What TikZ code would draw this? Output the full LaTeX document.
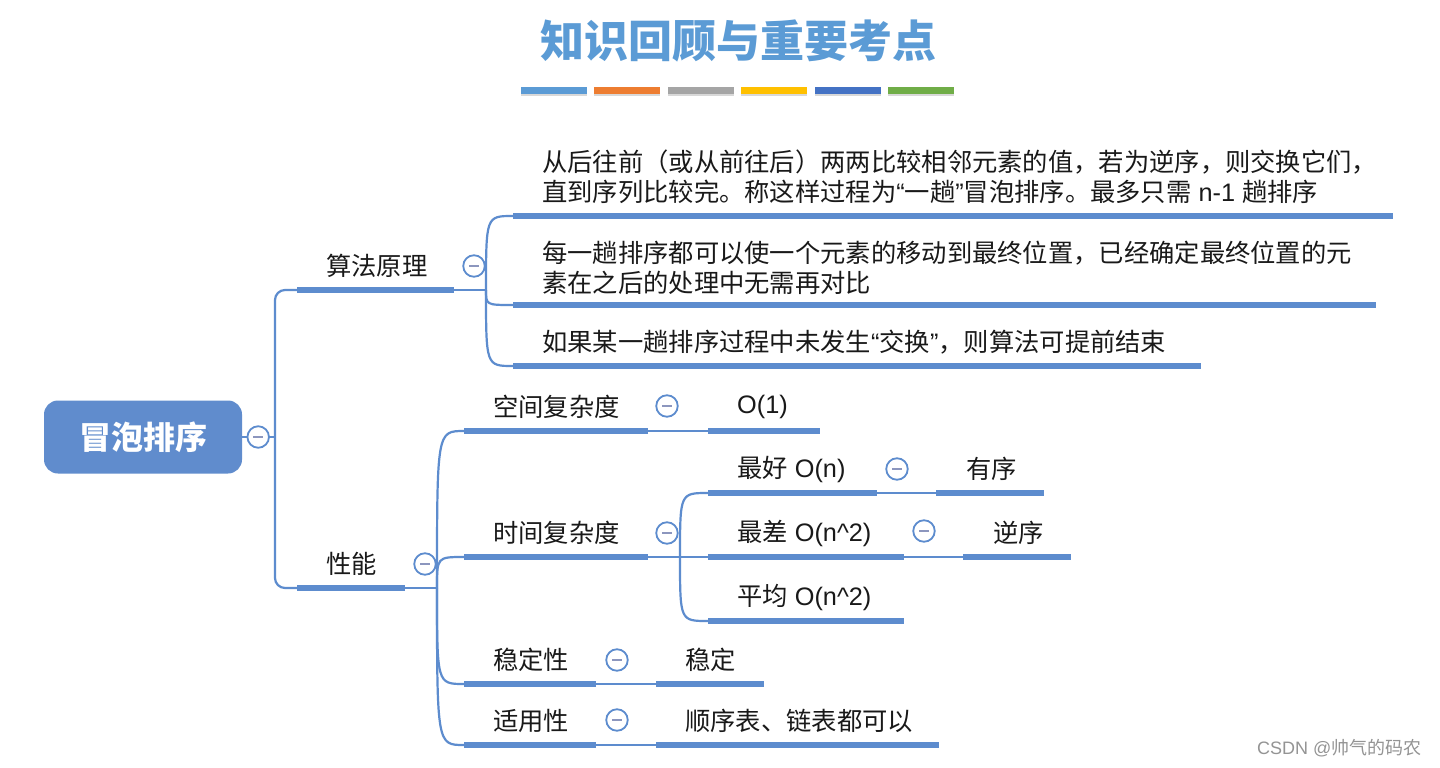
\documentclass[tikz,border=0pt]{standalone}
\usepackage{fontspec}
\setmainfont{Noto Sans CJK SC}
\newfontfamily\lat{Liberation Sans}
\usepackage{tikz}
\usetikzlibrary{positioning,shadows}
\definecolor{mblue}{RGB}{93,140,206}
\definecolor{rootblue}{RGB}{96,140,205}
\definecolor{tblue}{RGB}{91,155,213}
\definecolor{ink}{RGB}{25,25,25}
\definecolor{foldmark}{RGB}{140,150,190}
\definecolor{tb1}{RGB}{91,155,213}
\definecolor{tb2}{RGB}{237,125,49}
\definecolor{tb3}{RGB}{165,165,165}
\definecolor{tb4}{RGB}{255,192,0}
\definecolor{tb5}{RGB}{68,114,196}
\definecolor{tb6}{RGB}{112,173,71}
\begin{document}
\begin{tikzpicture}[
  x=1pt,y=-1pt,
  on grid,node distance=20pt,
  link/.style={draw=mblue,line width=2.2pt},
  bar/.style={draw=mblue,line width=6pt},
  topic/.style={anchor=west,inner sep=0pt,text=ink,align=left,
    font=\fontsize{25.3}{30}\selectfont},
  fold/.style={circle,draw=mblue,line width=1.8pt,fill=white,
    minimum size=21.5pt,inner sep=0pt,
    path picture={\draw[foldmark,line width=2pt]
      ([xshift=-5pt]path picture bounding box.center) --
      ([xshift=5pt]path picture bounding box.center);}},
  root/.style={rectangle,rounded corners=14pt,fill=rootblue,text=white,
    minimum width=198pt,minimum height=73pt,
    font=\fontsize{32}{32}\selectfont\bfseries},
  title/.style={text=tblue,font=\fontsize{44}{44}\selectfont\bfseries},
  wmark/.style={anchor=east,text=black!42,font=\fontsize{18}{18}\selectfont}]
  \fill[white] (0,0) rectangle (1440,768);
  \useasboundingbox (0,0) rectangle (1440,768);
  % title and colour strip
  \node[title] (ttl) at (738,41) {知识回顾与重要考点};
  \foreach \c [count=\i] in {tb1,tb2,tb3,tb4,tb5,tb6}
    \fill[\c,drop shadow={shadow xshift=0pt,shadow yshift=-2pt,opacity=.3}]
      ({521+73.4*(\i-1)},87) rectangle ++(66,7);
  % root
  \node[root] (root) at (143,437) {冒泡排序};
  \coordinate (trunk) at (275,437);
  % underlines: al-算法原理 pn-性能 kj-空间 sj-时间 zh-最好 zc-最差 pj-平均 wd-稳定性 sy-适用性
  \draw[bar] (297,290) coordinate (alL) -- (454,290) coordinate (alR);
  \draw[bar] (513,216) coordinate (c1L) -- (1393,216);
  \draw[bar] (513,305) coordinate (c2L) -- (1376,305);
  \draw[bar] (513,366) coordinate (c3L) -- (1201,366);
  \draw[bar] (297,588) coordinate (pnL) -- (405,588) coordinate (pnR);
  \draw[bar] (464,431) coordinate (kjL) -- (648,431) coordinate (kjR);
  \draw[bar] (708,431) coordinate (o1L) -- (820,431);
  \draw[bar] (464,557) coordinate (sjL) -- (648,557) coordinate (sjR);
  \draw[bar] (708,493) coordinate (zhL) -- (877,493) coordinate (zhR);
  \draw[bar] (936,493) coordinate (yxL) -- (1044,493);
  \draw[bar] (708,557) coordinate (zcL) -- (904,557) coordinate (zcR);
  \draw[bar] (963,557) coordinate (nxL) -- (1071,557);
  \draw[bar] (708,621) coordinate (pjL) -- (904,621);
  \draw[bar] (464,684) coordinate (wdL) -- (596,684) coordinate (wdR);
  \draw[bar] (656,684) coordinate (wd2L) -- (764,684);
  \draw[bar] (464,745) coordinate (syL) -- (596,745) coordinate (syR);
  \draw[bar] (656,745) coordinate (sy2L) -- (939,745);
  \coordinate (alJ) at (486,290);
  \coordinate (pnJ) at (437,588);
  \coordinate (sjJ) at (680,557);
  % connectors
  \draw[link] (root) -- (trunk);
  \draw[link,rounded corners=10pt] (trunk) |- (alL);
  \draw[link,rounded corners=10pt] (trunk) |- (pnL);
  \draw[link] (alR) -- (alJ);
  \foreach \c in {c1L,c2L,c3L}
    \draw[link] (alJ) .. controls (alJ |- \c) .. (\c);
  \draw[link] (pnR) -- (pnJ);
  \foreach \c in {kjL,sjL,wdL,syL}
    \draw[link] (pnJ) .. controls (pnJ |- \c) .. (\c);
  \draw[link] (kjR) -- (o1L);
  \draw[link] (sjR) -- (sjJ);
  \foreach \c in {zhL,zcL,pjL}
    \draw[link] (sjJ) .. controls (sjJ |- \c) .. (\c);
  \draw[link] (zhR) -- (yxL);
  \draw[link] (zcR) -- (nxL);
  \draw[link] (wdR) -- (wd2L);
  \draw[link] (syR) -- (sy2L);
  % fold buttons
  \node[fold] (f0) [right=16pt of root.east,anchor=center] {};
  \node[fold] (f1) [above right=24pt and 20pt of alR,anchor=center] {};
  \node[fold] (f2) [above right=24pt and 20pt of pnR,anchor=center] {};
  \node[fold] (f3) [above right=25pt and 19pt of kjR,anchor=center] {};
  \node[fold] (f4) [above right=24pt and 19pt of sjR,anchor=center] {};
  \node[fold] (f5) [above right=24pt and 20pt of zhR,anchor=center] {};
  \node[fold] (f6) [above right=26pt and 20pt of zcR,anchor=center] {};
  \node[fold] (f7) [above right=24pt and 21pt of wdR,anchor=center] {};
  \node[fold] (f8) [above right=25pt and 21pt of syR,anchor=center] {};
  % texts
  \node[topic] (al) at (326,266) {算法原理};
  \node[topic] (c1) at (542,176.5) {从后往前（或从前往后）两两比较相邻元素的值，若为逆序，则交换它们，\\直到序列比较完。称这样过程为{\lat“}一趟{\lat”}冒泡排序。最多只需{\lat\ n-1\ }趟排序};
  \node[topic] (c2) at (542,267.5) {每一趟排序都可以使一个元素的移动到最终位置，已经确定最终位置的元\\素在之后的处理中无需再对比};
  \node[topic] (c3) at (542,342) {如果某一趟排序过程中未发生{\lat“}交换{\lat”}，则算法可提前结束};
  \node[topic] (pn) at (326,564) {性能};
  \node[topic] (kj) at (493,407) {空间复杂度};
  \node[topic] (o1) at (737,407) {\lat O(1)};
  \node[topic] (sj) at (493,533) {时间复杂度};
  \node[topic] (zh) at (737,469) {最好{\lat\ O(n)}};
  \node[topic] (yx) at (966,469) {有序};
  \node[topic] (zc) at (737,533) {最差{\lat\ O(n\^{}2)}};
  \node[topic] (nx) at (993,533) {逆序};
  \node[topic] (pj) at (737,597) {平均{\lat\ O(n\^{}2)}};
  \node[topic] (wd) at (493,660) {稳定性};
  \node[topic] (wd2) at (685,660) {稳定};
  \node[topic] (sy) at (493,721) {适用性};
  \node[topic] (sy2) at (685,721) {顺序表、链表都可以};
  \node[wmark] (csdn) at (1425,748) {{\lat CSDN @}帅气的码农};
\end{tikzpicture}
\end{document}
